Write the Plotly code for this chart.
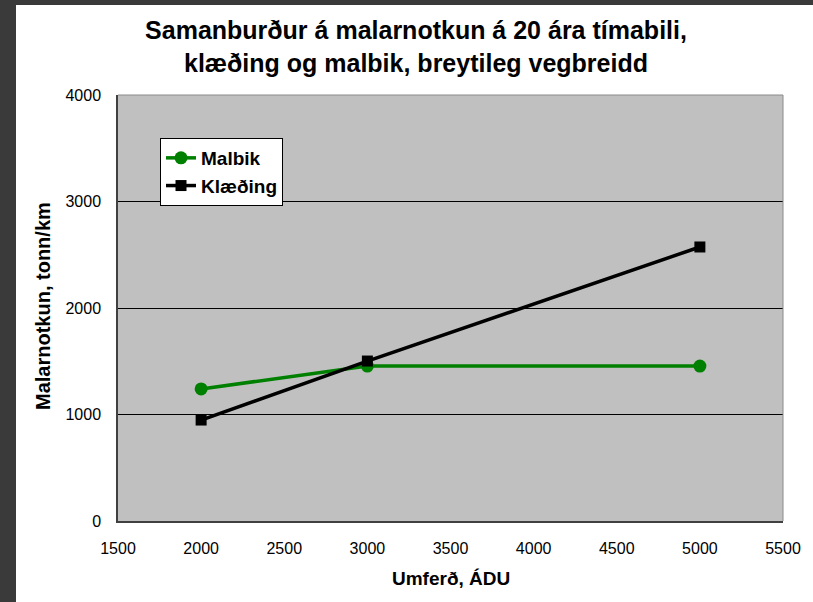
import plotly.graph_objects as go

umferd = [2000, 3000, 5000]
malbik = [1240, 1455, 1455]
klaeding = [948, 1502, 2573]
x_ticks = [1500, 2000, 2500, 3000, 3500, 4000, 4500, 5000, 5500]
y_ticks = [0, 1000, 2000, 3000, 4000]

W, H = 813, 602
L, R, T, B = 118, 30, 95, 81
pw, ph = W - L - R, H - T - B

FONT = "Liberation Sans, Arial, sans-serif"

fig = go.Figure()
fig.add_trace(go.Scatter(x=umferd, y=malbik, name="<b>Malbik</b>", mode="lines+markers",
                         line=dict(color="#008000", width=3.5),
                         marker=dict(symbol="circle", size=13, color="#008000")))
fig.add_trace(go.Scatter(x=umferd, y=klaeding, name="<b>Klæðing</b>", mode="lines+markers",
                         line=dict(color="#000000", width=3.5),
                         marker=dict(symbol="square", size=11, color="#000000")))

def px(xp):
    return (xp - L) / pw
def py(yp):
    return 1 - (yp - T) / ph

shapes = [
    dict(type="rect", xref="paper", yref="paper", x0=px(0), x1=px(16), y0=py(H), y1=py(0),
         fillcolor="#3a3a3a", line=dict(width=0), layer="above"),
    dict(type="rect", xref="paper", yref="paper", x0=px(0), x1=px(W), y0=py(5), y1=py(0),
         fillcolor="#3a3a3a", line=dict(width=0), layer="above"),
    dict(type="line", xref="paper", yref="paper", x0=0, x1=1, y0=1, y1=1,
         line=dict(color="#8a8a8a", width=1)),
    dict(type="line", xref="paper", yref="paper", x0=1, x1=1, y0=0, y1=1,
         line=dict(color="#8a8a8a", width=1)),
]

annotations = [
    dict(text="<b>Malarnotkun, tonn/km</b>", xref="paper", yref="paper",
         x=px(43), y=py(306), xanchor="center", yanchor="middle", textangle=-90,
         showarrow=False, font=dict(size=20, family=FONT, color="black")),
    dict(text="<b>Umferð, ÁDU</b>", xref="paper", yref="paper",
         x=px(451), y=py(578), xanchor="center", yanchor="middle",
         showarrow=False, font=dict(size=19, family=FONT, color="black")),
]

fig.update_layout(
    width=W, height=H,
    margin=dict(l=L, r=R, t=T, b=B),
    paper_bgcolor="white", plot_bgcolor="#c0c0c0",
    font=dict(family=FONT, color="black", size=16),
    title=dict(text="<b>Samanburður á malarnotkun á 20 ára tímabili,<br>klæðing og malbik, breytileg vegbreidd</b>",
               xref="container", yref="container",
               x=416 / W, xanchor="center", y=1 - 39 / H, yanchor="middle",
               font=dict(size=25, color="black", family=FONT)),
    xaxis=dict(range=[1500, 5500], tickvals=x_ticks, ticktext=[str(v) for v in x_ticks],
               showgrid=False, zeroline=False, showline=True, linecolor="#404040", linewidth=1.5,
               mirror=False, ticks="", ticklabelstandoff=12, tickfont=dict(size=16)),
    yaxis=dict(range=[0, 4000], tickvals=y_ticks, ticktext=[str(v) for v in y_ticks],
               showgrid=True, gridcolor="#000000", gridwidth=1, zeroline=False,
               showline=True, linecolor="#404040", linewidth=1.5, mirror=False, ticks="",
               ticklabelstandoff=12, tickfont=dict(size=16)),
    legend=dict(x=px(160), y=py(138), xanchor="left", yanchor="top",
                bgcolor="white", bordercolor="black", borderwidth=1,
                font=dict(size=19, family=FONT, color="black"),
                itemwidth=30, tracegroupgap=0),
    showlegend=True,
    shapes=shapes,
    annotations=annotations,
)

fig.write_html("out.html", config={"displayModeBar": False},
               post_script="document.body.style.margin='0';document.body.style.padding='0';")
